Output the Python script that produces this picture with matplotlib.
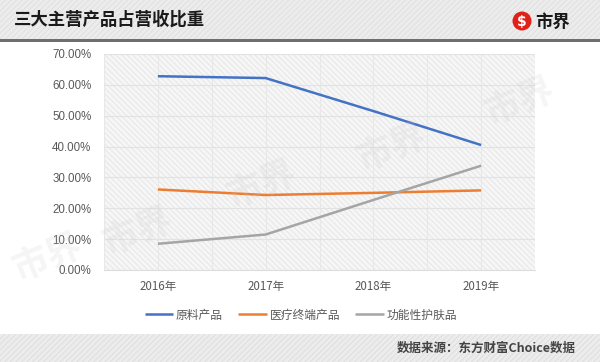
import matplotlib
matplotlib.use("Agg")
import matplotlib.pyplot as plt
import matplotlib.patches as mpatches
from matplotlib.ticker import FuncFormatter, MultipleLocator
import numpy as np

plt.rcParams['font.family'] = ['Noto Sans CJK SC', 'DejaVu Sans']
plt.rcParams['hatch.linewidth'] = 0.6

years = ["2016年", "2017年", "2018年", "2019年"]
raw_materials = [0.628, 0.622, 0.515, 0.405]
medical_terminal = [0.261, 0.243, 0.250, 0.258]
functional_skincare = [0.085, 0.115, 0.227, 0.338]
series_names = ["原料产品", "医疗终端产品", "功能性护肤品"]
colors = ["#4472C4", "#ED7D31", "#A5A5A5"]
yticks = [0, 0.1, 0.2, 0.3, 0.4, 0.5, 0.6, 0.7]

W, H = 600, 362
fig = plt.figure(figsize=(W / 100, H / 100), dpi=100)
fig.patch.set_facecolor("white")

# background bands (figure level)
bg = fig.add_axes([0, 0, 1, 1], zorder=-10)
bg.set_xlim(0, W); bg.set_ylim(H, 0); bg.axis("off")
bg.add_patch(mpatches.Rectangle((0, 0), W, 39, facecolor="#ececec", edgecolor="#dedede",
                                hatch="//////", lw=0))
bg.add_patch(mpatches.Rectangle((0, 39), W, 2.5, facecolor="#6e6e6e", lw=0))
bg.add_patch(mpatches.Rectangle((0, 334), W, 28, facecolor="#ececec", edgecolor="#dcdcdc",
                                hatch="//////", lw=0))
bg.text(14, 20, "三大主营产品占营收比重", fontsize=12.5, fontweight="bold", color="#1a1a1a",
        va="center", ha="left")
bg.add_patch(mpatches.Circle((522, 21), 9.5, facecolor="#e0201b", lw=0))
bg.text(522, 21.5, "$", fontsize=10, fontweight="bold", color="white", ha="center", va="center",
        family="DejaVu Sans")
bg.text(535, 21.5, "市界", fontsize=12.5, fontweight="bold", color="#1a1a1a", ha="left", va="center")
bg.text(576, 348, "数据来源：东方财富Choice数据", fontsize=9, fontweight="bold", color="#444444",
        ha="right", va="center")

ax = fig.add_axes([104 / W, 1 - 270 / H, (535 - 104) / W, (270 - 54) / H])
ax.set_facecolor("#f6f6f6")
ax.add_patch(mpatches.Rectangle((0, 0), 1, 1, transform=ax.transAxes, facecolor="none",
                                edgecolor="#e4e4e4", hatch="\\\\\\\\\\\\", lw=0, zorder=0))
x = np.arange(len(years))
data = [raw_materials, medical_terminal, functional_skincare]
for vals, name, c in zip(data, series_names, colors):
    ax.plot(x, vals, color=c, lw=1.8, label=name, zorder=3, solid_capstyle="butt")

ax.set_xlim(-0.5, len(years) - 0.5)
ax.set_ylim(0, 0.7)
ax.set_yticks(yticks)
ax.yaxis.set_major_formatter(FuncFormatter(lambda v, p: f"{v*100:.2f}%"))
ax.set_xticks(x)
ax.set_xticklabels(years)
ax.xaxis.set_minor_locator(MultipleLocator(0.5))
ax.grid(axis="y", which="major", color="#e2e2e2", lw=0.8, zorder=1)
ax.grid(axis="x", which="both", color="#e8e8e8", lw=0.8, zorder=1)
for s in ax.spines.values():
    s.set_visible(False)
ax.spines["bottom"].set_visible(True)
ax.spines["bottom"].set_color("#dddddd")
ax.tick_params(axis="both", which="both", length=0, colors="#595959")
ax.tick_params(axis="y", pad=9, labelsize=8.3)
ax.tick_params(axis="x", pad=7, labelsize=8.3)
for lab in ax.get_yticklabels():
    lab.set_family(["Liberation Sans", "DejaVu Sans"])

# faint watermarks over everything
ov = fig.add_axes([0, 0, 1, 1], zorder=10)
ov.set_xlim(0, W); ov.set_ylim(H, 0); ov.axis("off")
for (wx, wy) in [(48, 258), (138, 232), (262, 185), (392, 148), (520, 102)]:
    ov.text(wx, wy, "市界", fontsize=26, fontweight="heavy", color="#c8c8c8", alpha=0.18,
            rotation=22, ha="center", va="center")

leg = fig.legend(loc="center", bbox_to_anchor=(301 / W, 1 - 315 / H), ncol=3, frameon=False,
                 fontsize=8.5, handlelength=2.4, columnspacing=1.3, handletextpad=0.25)
for t in leg.get_texts():
    t.set_color("#595959")

fig.savefig("out.png", dpi=100, facecolor=fig.get_facecolor())
